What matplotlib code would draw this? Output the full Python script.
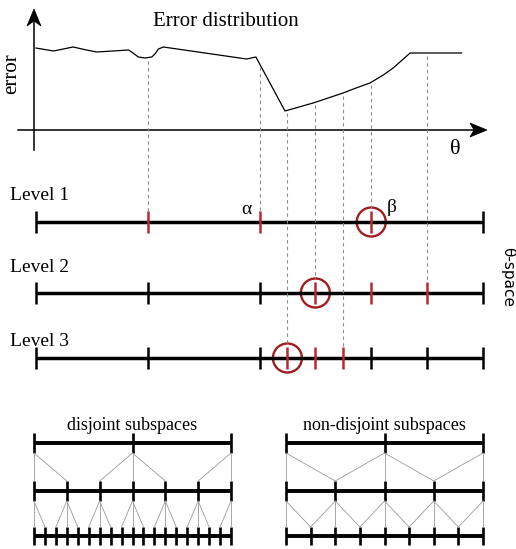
import numpy as np
import matplotlib.pyplot as plt
from matplotlib.patches import Circle, Polygon

# error curve: theta in [0, 1], error as height above the theta axis
curve_theta = [0.0, 0.039, 0.083, 0.113, 0.136, 0.207, 0.214, 0.229, 0.244, 0.259,
               0.266, 0.274, 0.285, 0.471, 0.492, 0.557, 0.620, 0.687, 0.716, 0.747,
               0.777, 0.799, 0.837, 0.952]
curve_error = [82, 79, 83, 80, 78, 80, 78, 73, 72, 73,
               76, 81, 83, 71, 73, 19, 27, 37, 42, 47,
               55, 62, 77, 77]

# theta-space levels: plain ticks, tested (red) ticks, best sample (circled)
level_names = ["Level 1", "Level 2", "Level 3"]
level_black = [[0, 1], [0, 0.25, 0.5, 1], [0, 0.25, 0.5, 0.75, 0.875, 1]]
level_red = [[0.25, 0.5], [0.75, 0.875], [0.625, 0.6875]]
level_best = [0.75, 0.625, 0.5625]

# dashed guides: theta and the level they drop down to
guide_theta = [0.25, 0.5, 0.5625, 0.625, 0.6875, 0.75, 0.875]
guide_level = [0, 0, 2, 1, 2, 0, 1]

# number of intervals per level in the two subdivision schemes
disjoint_divs = [2, 6, 18]
overlap_divs = [2, 4, 8]

W, H = 516, 549
TX0, TX1 = 36, 483          # theta = 0 .. 1 in figure pixels
AXIS_X, AXIS_Y = 34, 130
LEVEL_Y = [222, 293, 358]
LABEL_Y = [196, 267, 341]
TICK = 11
R = 14.5
RED = "#b52a30"
CIRC = "#a01e22"
GUIDE = "#8a8a8a"
SERIF = "Liberation Serif"


def tx(t):
    return TX0 + (TX1 - TX0) * np.asarray(t, dtype=float)


fig = plt.figure(figsize=(W / 100, H / 100), dpi=100)
ax = fig.add_axes([0, 0, 1, 1])
ax.set_xlim(0, W)
ax.set_ylim(H, 0)
ax.set_aspect("equal")
ax.axis("off")

# --- error distribution ---
ax.plot([18, 480], [AXIS_Y, AXIS_Y], color="k", lw=1.1)
ax.plot([AXIS_X, AXIS_X], [150, 15], color="k", lw=1.1)
# barbed arrow heads
ax.add_patch(Polygon([(487, AXIS_Y), (470, AXIS_Y - 7), (474, AXIS_Y),
                      (470, AXIS_Y + 7)], closed=True, fc="k", ec="k", lw=0.5))
ax.add_patch(Polygon([(AXIS_X, 9), (AXIS_X - 7, 26), (AXIS_X, 21),
                      (AXIS_X + 7, 26)], closed=True, fc="k", ec="k", lw=0.5))
ax.plot(tx(curve_theta), AXIS_Y - np.array(curve_error), color="k", lw=0.9)

ax.text(226, 22, "Error distribution", fontsize=15, family=SERIF,
        ha="center", va="center")
ax.text(12, 74, "error", fontsize=15, family=SERIF, rotation=90,
        ha="center", va="center")
ax.text(455, 150, "θ", fontsize=16, family=SERIF, ha="center", va="center")

# --- levels in theta-space ---
for i, y in enumerate(LEVEL_Y):
    ax.plot([TX0, TX1], [y, y], color="k", lw=2.5, solid_capstyle="butt")
    ax.vlines(tx(level_black[i]), y - TICK, y + TICK, color="k", lw=1.8)
    ax.vlines(tx(level_red[i] + [level_best[i]]), y - TICK, y + TICK,
              color=RED, lw=1.8)
    ax.add_patch(Circle((float(tx(level_best[i])), y), R, fill=False,
                        ec=CIRC, lw=1.7))
    ax.text(10, LABEL_Y[i], level_names[i], fontsize=14, family=SERIF,
            ha="left", va="center")

ax.text(246, 210, "α", fontsize=14, family=SERIF, ha="center", va="center")
ax.text(392, 207, "β", fontsize=14, family=SERIF, ha="center", va="center")
ax.text(508, 277, "θ-space", fontsize=11, family="DejaVu Sans", rotation=-90,
        ha="center", va="center")

for t, lv in zip(guide_theta, guide_level):
    x = float(tx(t))
    y0 = AXIS_Y - np.interp(t, curve_theta, curve_error) + 3
    y1 = LEVEL_Y[lv] - (R if t == level_best[lv] else TICK)
    ax.plot([x, x], [y0, y1], color=GUIDE, lw=0.8, ls=(0, (3, 3)))


# --- subdivision schemes ---
def draw_tree(x0, x1, divs, disjoint, title):
    ys = [443, 491, 536]
    half = [10, 10, 9]
    pos = [np.arange(d + 1) / d for d in divs]
    px = lambda p: x0 + (x1 - x0) * p
    for i, y in enumerate(ys):
        ax.plot([x0, x1], [y, y], color="k", lw=2.8, solid_capstyle="butt")
        ax.vlines(px(pos[i]), y - half[i], y + half[i], color="k", lw=1.9)
    for i in range(1, len(ys)):
        up = pos[i - 1]
        for p in pos[i]:
            d = np.abs(up - p)
            if disjoint:
                targets = [up[np.argmin(d)]]
            else:
                targets = up[d <= 1.0 / divs[i] + 1e-9]
            for q in targets:
                ax.plot([px(q), px(p)],
                        [ys[i - 1] + half[i - 1], ys[i] - half[i]],
                        color="#9a9a9a", lw=0.6)
    ax.text((x0 + x1) / 2, 425, title, fontsize=13, family=SERIF,
            ha="center", va="center")


draw_tree(34, 231, disjoint_divs, True, "disjoint subspaces")
draw_tree(286, 483, overlap_divs, False, "non-disjoint subspaces")

fig.savefig("out.png", dpi=100)
